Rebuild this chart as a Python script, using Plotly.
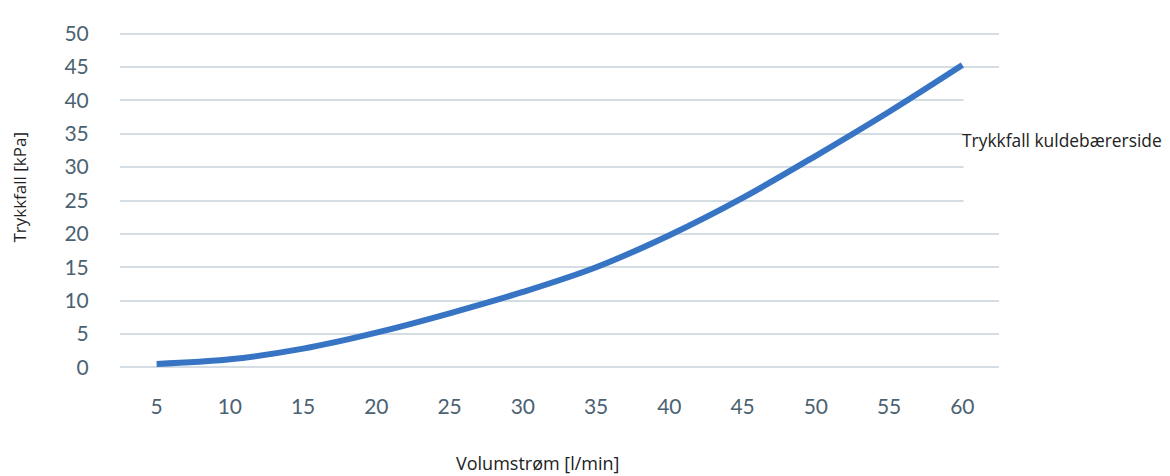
import plotly.graph_objects as go

# Volumstrøm [l/min] vs trykkfall [kPa]
flow = [5, 10, 15, 20, 25, 30, 35, 40, 45, 50, 55, 60]
pressure_drop = [0.5, 1.2, 2.8, 5.2, 8.1, 11.3, 15.0, 19.8, 25.4, 31.7, 38.3, 45.3]
y_ticks = [0, 5, 10, 15, 20, 25, 30, 35, 40, 45, 50]

series_name = "Trykkfall kuldebærerside"
x_title = "Volumstrøm [l/min]"
y_title = "Trykkfall [kPa]"

tick_font = dict(family="Lato, Open Sans, sans-serif", size=21, color="#4b6272")
title_font = dict(family="Open Sans, Noto Sans, sans-serif", size=18, color="#222222")
grid_color = "#d3dde3"

fig = go.Figure()
fig.add_trace(go.Scatter(
    x=flow,
    y=pressure_drop,
    name=series_name,
    mode="lines",
    line=dict(color="#3775c4", width=6, shape="spline"),
    showlegend=False,
))

# the page body has an 8px margin, so the figure is 8px smaller than the window
fig.update_layout(
    width=1162,
    height=468,
    margin=dict(l=112, r=171, t=12, b=102),
    paper_bgcolor="white",
    plot_bgcolor="white",
    xaxis=dict(
        range=[2.5, 62.5],
        tickvals=flow,
        showgrid=False,
        zeroline=False,
        showline=False,
        tickfont=tick_font,
        ticks="outside",
        ticklen=14,
        tickcolor="rgba(0,0,0,0)",
    ),
    yaxis=dict(
        range=[-1, 51],
        tickvals=y_ticks,
        showgrid=True,
        gridcolor=grid_color,
        gridwidth=2,
        zeroline=False,
        showline=False,
        tickfont=tick_font,
        ticks="outside",
        ticklen=26,
        tickcolor="rgba(0,0,0,0)",
    ),
    shapes=[
        # white box behind the series label, hides the grid ends there
        dict(type="rect", xref="paper", yref="paper",
             x0=0.9595, x1=1.01, y0=0.477, y1=0.802,
             fillcolor="white", line=dict(width=0), layer="above"),
    ],
    annotations=[
        dict(text=series_name, xref="paper", yref="paper", x=0.956, y=0.675,
             xanchor="left", yanchor="middle", showarrow=False,
             font=dict(family="Open Sans, Noto Sans, sans-serif", size=17.4,
                       color="#222222")),
        dict(text=x_title, xref="paper", yref="paper", x=0.4755, y=-0.257,
             xanchor="center", yanchor="middle", showarrow=False, font=title_font),
        dict(text=y_title, xref="paper", yref="paper", x=-0.1138, y=0.54,
             xanchor="center", yanchor="middle", textangle=-90, showarrow=False,
             font=dict(family="Open Sans, Noto Sans, sans-serif", size=17,
                       color="#222222")),
    ],
)

fig.write_html("out.html")
